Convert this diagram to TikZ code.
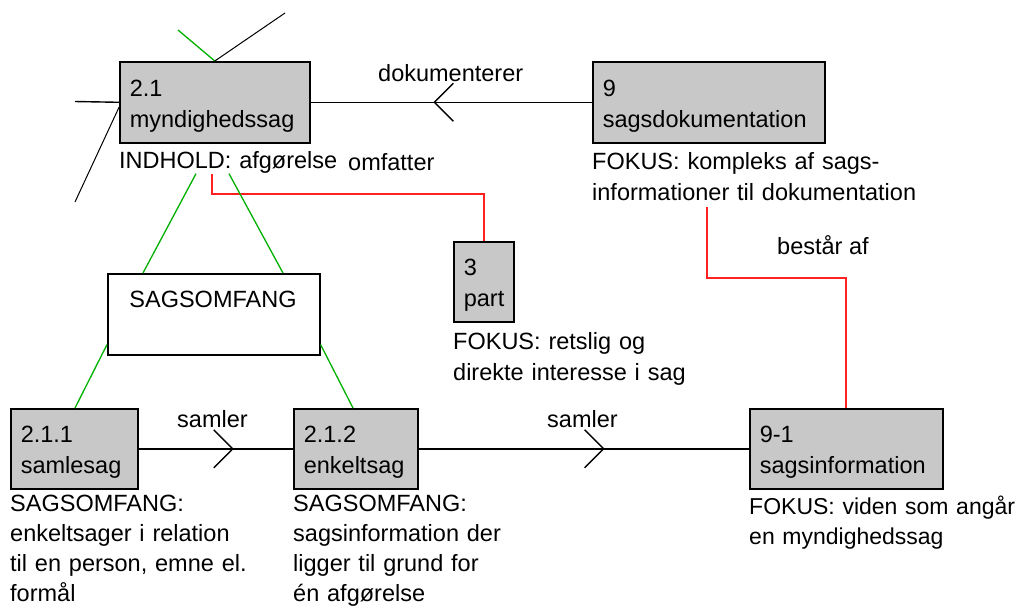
\documentclass[tikz,border=0pt]{standalone}
\usepackage{fontspec}
\setmainfont{Liberation Sans}
\usepackage{tikz}
\usetikzlibrary{decorations.markings}
\usetikzlibrary{positioning}
\definecolor{boxgray}{RGB}{200, 200, 200}
\definecolor{mgreen}{RGB}{0, 176, 0}
\definecolor{mred}{RGB}{255, 32, 32}
\tikzset{ebox/.style = {draw, line width = 1.6pt, fill = boxgray, anchor = north west, align = left, inner xsep = 10pt, text height = 24pt, font = \fontsize{23.5}{31}\selectfont}}
\tikzset{note/.style = {anchor = base west, align = left, text width = 340pt, inner sep = 0, font = \fontsize{23.5}{31}\selectfont}}
\tikzset{lbl/.style = {anchor = base west, inner sep = 0, font = \fontsize{23.5}{31}\selectfont}}
\tikzset{cline/.style = {line width = 1.4pt}}
\tikzset{gline/.style = {line width = 1.3pt, mgreen}}
\tikzset{rline/.style = {line width = 1.8pt, mred}}
\tikzset{midv/.style = {decoration = {markings, mark = at position #1 with {\draw [cline] (-19, -19) -- (0, 0) -- (-19, 19);}}, postaction = decorate}}

\begin{document}
\begin{tikzpicture}[x = 1pt, y = -1pt]
    \useasboundingbox (0, 0) rectangle (1019, 608);

    % entities
    \node [ebox, minimum width = 190pt, minimum height = 81pt, text width = 170pt] (myn) at (119, 61) {2.1\\myndighedssag};
    \node [ebox, minimum width = 232pt, minimum height = 81pt, text width = 212pt] (sdok) at (592, 61) {9\\sagsdokumentation};
    \node [ebox, minimum width = 60pt, minimum height = 80pt, text width = 40pt] (part) at (453, 241) {3\\part};
    \node [ebox, minimum width = 127pt, minimum height = 80pt, text width = 107pt] (saml) at (10, 408) {2.1.1\\samlesag};
    \node [ebox, minimum width = 124pt, minimum height = 80pt, text width = 104pt] (enk) at (293, 408) {2.1.2\\enkeltsag};
    \node [ebox, minimum width = 193pt, minimum height = 80pt, text width = 173pt] (sinf) at (749, 408) {9-1\\sagsinformation};

    \node [ebox, fill = white, minimum width = 212pt, minimum height = 81pt] (somf) at (107, 273) {};
    \node [lbl, anchor = base] (somftxt) at (213, 307) {SAGSOMFANG};

    % texts under the boxes
    \node [note] (ind) at ([yshift = -25pt]myn.south west) {INDHOLD: afgørelse};
    \node [note] (sfok) at ([yshift = -26pt]sdok.south west) {FOKUS: kompleks af sags-\\informationer til dokumentation};
    \node [note] (pfok) at ([yshift = -27pt]part.south west) {FOKUS: retslig og\\direkte interesse i sag};
    \node [note, font = \fontsize{23.5}{30}\selectfont] (samltxt) at ([yshift = -22pt]saml.south west) {SAGSOMFANG:\\enkeltsager i relation\\til en person, emne el.\\formål};
    \node [note, font = \fontsize{23.5}{30}\selectfont] (enktxt) at ([yshift = -22pt]enk.south west) {SAGSOMFANG:\\sagsinformation der\\ligger til grund for\\én afgørelse};
    \node [note, font = \fontsize{23}{30}\selectfont] (sinftxt) at ([yshift = -25pt]sinf.south west) {FOKUS: viden som angår\\en myndighedssag};

    \node [lbl] (dok) at (378, 81) {dokumenterer};
    \node [lbl] (omf) at (348, 170) {omfatter};
    \node [lbl] (best) at (777, 254) {består af};
    \node [lbl] (sam1) at (177, 427) {samler};
    \node [lbl] (sam2) at (547, 427) {samler};

    % relations
    \draw [cline, midv = 0.56] (sdok) -- (myn);
    \draw [cline, midv = 0.61] (saml) -- (enk);
    \draw [cline, midv = 0.56] (enk) -- (sinf);

    \draw [rline] ([xshift = 93pt]myn.south west |- ind.south) -- ++(0, 20) -| (part.north);
    \draw [rline] ([xshift = 115pt, yshift = -6pt]sfok.south west) -- ++(0, 71) -| (sinf.north);

    \draw [gline] ([xshift = 77pt]ind.south west) -- ([xshift = 36pt]somf.north west);
    \draw [gline] ([xshift = 110pt]ind.south west) -- ([xshift = 176pt]somf.north west);
    \draw [gline] ([yshift = 11pt]somf.south west) -- ([xshift = 65pt]saml.north west);
    \draw [gline] ([yshift = 11pt]somf.south east) -- ([xshift = 60pt]enk.north west);

    % loose ends
    \coordinate (lstub) at (75, 101.5);
    \coordinate (ldiag) at (75, 202);
    \coordinate (tgreen) at (178, 30);
    \coordinate (tblack) at (285, 13);
    \draw [cline] (lstub) -- (myn.west);
    \draw [cline, line width = 1pt] (ldiag) -- ([yshift = -5pt]myn.west);
    \draw [gline] (myn.north) -- (tgreen);
    \draw [cline, line width = 1pt] (myn.north) -- (tblack);
  \end{tikzpicture}
\end{document}
